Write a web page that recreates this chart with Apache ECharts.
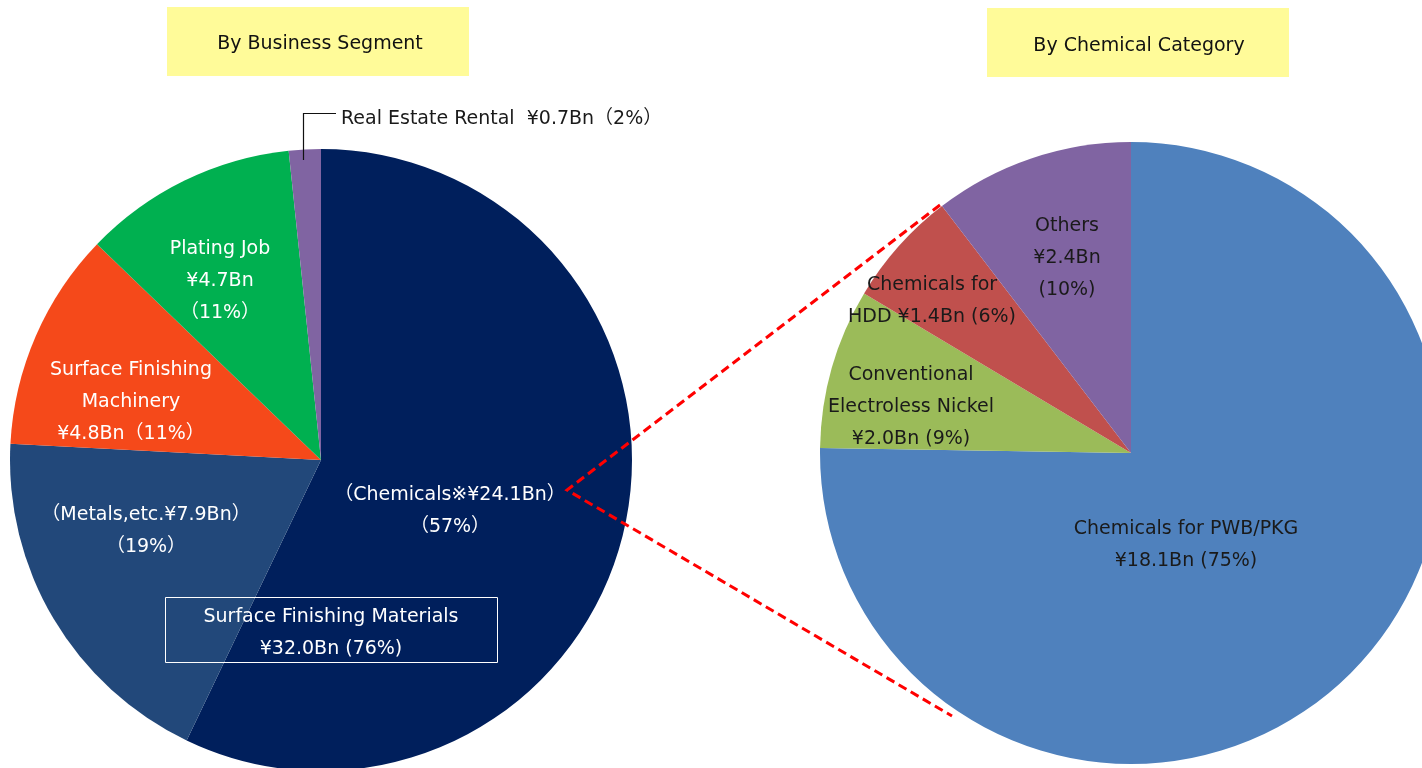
<!DOCTYPE html>
<html>
<head>
<meta charset="utf-8">
<script src="https://cdn.jsdelivr.net/npm/echarts@6/dist/echarts.min.js"></script>
<style>
html,body{margin:0;padding:0;background:#fff;}
#chart{width:1422px;height:768px;}
</style>
</head>
<body>
<div id="chart"></div>
<script>
// ---- data ----
const segNames = ['Chemicals', 'Metals, etc.', 'Surface Finishing Machinery', 'Plating Job', 'Real Estate Rental'];
const segValues = [24.1, 7.9, 4.8, 4.7, 0.7];
const segLabels = [
  '（Chemicals※¥24.1Bn）\n（57%）',
  '（Metals,etc.¥7.9Bn）\n（19%）',
  'Surface Finishing\nMachinery\n¥4.8Bn（11%）',
  'Plating Job\n¥4.7Bn\n（11%）',
  'Real Estate Rental  ¥0.7Bn（2%）'
];
const chemNames = ['Chemicals for PWB/PKG', 'Conventional Electroless Nickel', 'Chemicals for HDD', 'Others'];
const chemValues = [18.1, 2.0, 1.45, 2.5];
const chemLabels = [
  'Chemicals for PWB/PKG\n¥18.1Bn (75%)',
  'Conventional\nElectroless Nickel\n¥2.0Bn (9%)',
  'Chemicals for\nHDD ¥1.4Bn (6%)',
  'Others\n¥2.4Bn\n(10%)'
];
const titles = ['By Business Segment', 'By Chemical Category'];
const materialsLabel = 'Surface Finishing Materials\n¥32.0Bn (76%)';

// ---- styles / layout ----
const FONT = '"DejaVu Sans", "Noto Sans CJK JP", sans-serif';
const FS = 19;
const segColors = ['#001F5C', '#22487A', '#F5491A', '#00B050', '#8064A2'];
const chemColors = ['#4F81BD', '#9BBB59', '#C0504D', '#8064A2'];
const segLabelPos = [[450, 511, 'center'], [146, 531, 'center'], [131, 402, 'center'], [220, 281, 'center'], [341, 119, 'left']];
const chemLabelPos = [[1186, 545, 'center'], [911, 407, 'center'], [932, 301, 'center'], [1067, 258, 'center']];

const chart = echarts.init(document.getElementById('chart'), null, {renderer: 'canvas'});

function mkData(names, values, labels, colors, textColor) {
  return names.map((n, i) => ({
    name: n, value: values[i],
    itemStyle: {color: colors[i]},
    label: {formatter: labels[i], color: (i === 4 && textColor === '#fff') ? '#1a1a1a' : textColor}
  }));
}

const option = {
  animation: false,
  backgroundColor: '#ffffff',
  series: [
    {
      type: 'pie', center: [321, 460], radius: [0, 311], startAngle: 90, clockwise: true,
      silent: true, avoidLabelOverlap: false,
      label: {show: true, position: 'inside', fontFamily: FONT, fontSize: FS, lineHeight: 32},
      labelLine: {show: false},
      itemStyle: {borderWidth: 0},
      data: mkData(segNames, segValues, segLabels, segColors, '#fff'),
      labelLayout: p => ({x: segLabelPos[p.dataIndex][0], y: segLabelPos[p.dataIndex][1], align: segLabelPos[p.dataIndex][2], verticalAlign: 'middle'})
    },
    {
      type: 'pie', center: [1131, 453], radius: [0, 311], startAngle: 90, clockwise: true,
      silent: true, avoidLabelOverlap: false,
      label: {show: true, position: 'inside', fontFamily: FONT, fontSize: FS, lineHeight: 32},
      labelLine: {show: false},
      itemStyle: {borderWidth: 0},
      data: mkData(chemNames, chemValues, chemLabels, chemColors, '#1a1a1a'),
      labelLayout: p => ({x: chemLabelPos[p.dataIndex][0], y: chemLabelPos[p.dataIndex][1], align: chemLabelPos[p.dataIndex][2], verticalAlign: 'middle'})
    }
  ],
  graphic: [
    {type: 'rect', shape: {x: 167, y: 7, width: 302, height: 69}, style: {fill: '#FFFB99'}},
    {type: 'text', x: 320, y: 44, style: {text: titles[0], font: FS + 'px ' + FONT, fill: '#111', align: 'center', verticalAlign: 'middle'}},
    {type: 'rect', shape: {x: 987, y: 8, width: 302, height: 69}, style: {fill: '#FFFB99'}},
    {type: 'text', x: 1139, y: 46, style: {text: titles[1], font: FS + 'px ' + FONT, fill: '#111', align: 'center', verticalAlign: 'middle'}},
    {type: 'polyline', shape: {points: [[303.5, 160], [303.5, 113.5], [336, 113.5]]}, style: {stroke: '#111', lineWidth: 1.2, fill: null}, z: 10},
    {type: 'rect', shape: {x: 165.5, y: 597.5, width: 332, height: 65}, style: {fill: null, stroke: '#fff', lineWidth: 1}, z: 10},
    {type: 'text', x: 331, y: 633, style: {text: materialsLabel, font: FS + 'px ' + FONT, fill: '#fff', align: 'center', verticalAlign: 'middle', lineHeight: 32}, z: 10},
    {type: 'polyline', shape: {points: [[940, 205], [567, 490], [952, 716]]}, style: {stroke: '#FF0000', lineWidth: 3, lineDash: [9, 5], fill: null}, z: 10}
  ]
};
chart.setOption(option);
</script>
</body>
</html>
